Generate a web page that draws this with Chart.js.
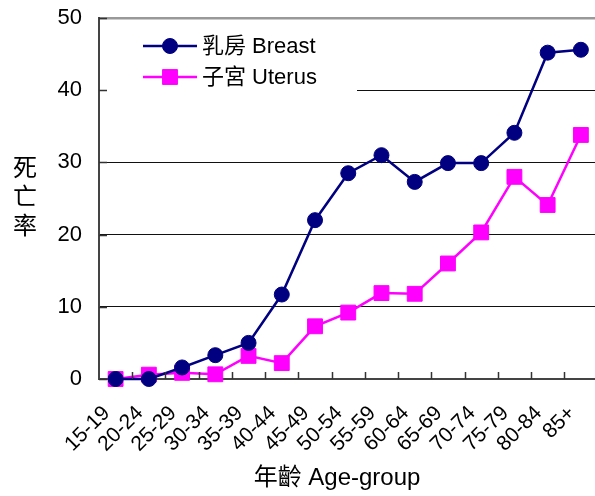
<!DOCTYPE html>
<html>
<head>
<meta charset="utf-8">
<script src="https://cdn.jsdelivr.net/npm/chart.js@4"></script>
<style>
  html, body { margin: 0; padding: 0; background: #fff; overflow: hidden; }
  canvas { display: block; }
</style>
</head>
<body>
<canvas id="chart" width="609" height="496"></canvas>
<script>
// Age groups along the x axis
const ageGroups = ['15-19', '20-24', '25-29', '30-34', '35-39', '40-44', '45-49',
                   '50-54', '55-59', '60-64', '65-69', '70-74', '75-79', '80-84', '85+'];
// Mortality rate by age group
const breastRates = [0.0, 0.0, 1.6, 3.3, 5.0, 11.7, 22.0, 28.5, 31.0, 27.3, 29.9, 29.9, 34.1, 45.2, 45.6];
const uterusRates = [0.0, 0.6, 0.85, 0.65, 3.2, 2.2, 7.3, 9.2, 11.9, 11.8, 16.0, 20.3, 28.0, 24.1, 33.8];
const seriesNames = ['乳房 Breast', '子宮 Uterus'];
const yTicks = [0, 10, 20, 30, 40, 50];
const yTitle = '死亡率';
const xTitle = '年齡 Age-group';

const FONT = "'Liberation Sans', 'Noto Sans CJK TC', Arial, sans-serif";
const NAVY = '#000080';
const MAGENTA = '#FF00FF';

// Inward tick marks on both axes
const innerTicks = {
  id: 'innerTicks',
  afterDraw(chart) {
    const { ctx, chartArea: a, scales: { x, y } } = chart;
    ctx.save();
    ctx.strokeStyle = '#333';
    ctx.lineWidth = 1.5;
    ctx.beginPath();
    for (let i = 0; i < ageGroups.length - 1; i++) {
      const px = Math.round((x.getPixelForValue(i) + x.getPixelForValue(i + 1)) / 2) + 0.5;
      ctx.moveTo(px, a.bottom);
      ctx.lineTo(px, a.bottom - 7);
    }
    yTicks.forEach(v => {
      const py = Math.round(y.getPixelForValue(v)) + 0.5;
      ctx.moveTo(a.left, py);
      ctx.lineTo(a.left + 8, py);
    });
    ctx.stroke();
    ctx.restore();
  }
};

// Legend inside the plot area on a white panel
const innerLegend = {
  id: 'innerLegend',
  afterDatasetsDraw(chart) {
    const { ctx, chartArea: a } = chart;
    ctx.save();
    ctx.fillStyle = '#fff';
    ctx.fillRect(a.left + 2, a.top + 10, 256, 72);
    const rows = [a.top + 28, a.top + 59];
    chart.data.datasets.forEach((ds, i) => {
      const yy = rows[i];
      ctx.strokeStyle = ds.borderColor;
      ctx.lineWidth = ds.borderWidth;
      ctx.beginPath();
      ctx.moveTo(a.left + 44, yy);
      ctx.lineTo(a.left + 98, yy);
      ctx.stroke();
      ctx.fillStyle = ds.pointBackgroundColor;
      ctx.strokeStyle = ds.pointBorderColor;
      ctx.lineWidth = 1;
      Chart.helpers.drawPoint(ctx, {
        pointStyle: ds.pointStyle, radius: ds.pointRadius, rotation: 0, borderWidth: 1
      }, a.left + 71, yy);
      ctx.fillStyle = '#000';
      ctx.font = '22px ' + FONT;
      ctx.textAlign = 'left';
      ctx.textBaseline = 'middle';
      ctx.fillText(ds.label, a.left + 103, yy + 1);
    });
    ctx.restore();
  }
};

// Axis titles: stacked characters on the left, age-group caption below
const axisTitles = {
  id: 'axisTitles',
  afterDraw(chart) {
    const { ctx, chartArea: a } = chart;
    ctx.save();
    ctx.fillStyle = '#000';
    ctx.textAlign = 'center';
    ctx.textBaseline = 'middle';
    ctx.font = '24px ' + FONT;
    const mid = (a.top + a.bottom) / 2;
    [...yTitle].forEach((ch, i) => {
      ctx.fillText(ch, 25, mid - 29 + i * 29);
    });
    ctx.font = '24px ' + FONT;
    ctx.fillText(xTitle, a.left + 238, a.bottom + 99);
    ctx.restore();
  }
};

new Chart(document.getElementById('chart'), {
  type: 'line',
  data: {
    labels: ageGroups,
    datasets: [
      {
        label: seriesNames[0],
        data: breastRates,
        borderColor: NAVY,
        backgroundColor: NAVY,
        pointBackgroundColor: NAVY,
        pointBorderColor: NAVY,
        borderWidth: 2.5,
        pointStyle: 'circle',
        pointRadius: 7.5,
        pointBorderWidth: 1,
        tension: 0
      },
      {
        label: seriesNames[1],
        data: uterusRates,
        borderColor: MAGENTA,
        backgroundColor: MAGENTA,
        pointBackgroundColor: MAGENTA,
        pointBorderColor: MAGENTA,
        borderWidth: 2.5,
        pointStyle: 'rect',
        pointRadius: 10.5,
        pointBorderWidth: 1,
        tension: 0
      }
    ]
  },
  options: {
    responsive: false,
    animation: false,
    clip: false,
    layout: { padding: { top: 18, right: 3, left: 0, bottom: 0 } },
    plugins: {
      legend: { display: false },
      tooltip: { enabled: false }
    },
    scales: {
      x: {
        offset: true,
        grid: { display: false, drawTicks: false },
        border: { display: true, color: '#444', width: 2 },
        ticks: {
          color: '#000',
          font: { family: FONT, size: 21 },
          maxRotation: 45,
          minRotation: 45,
          autoSkip: false,
          padding: 22,
          labelOffset: -9
        },
        title: { display: false },
        afterFit(scale) {
          scale.height = 117;
          scale.paddingLeft = 0;
          scale.paddingRight = 0;
          scale.paddingTop = 0;
          scale.paddingBottom = 0;
        }
      },
      y: {
        min: 0,
        max: 50,
        afterBuildTicks(scale) { scale.ticks = yTicks.map(v => ({ value: v })); },
        grid: {
          drawTicks: false,
          color: ctx => ctx.tick.value === 50 ? '#999' : (ctx.tick.value === 0 ? 'rgba(0,0,0,0)' : '#111'),
          lineWidth: ctx => ctx.tick.value === 50 ? 2.5 : 1
        },
        border: { display: true, color: '#444', width: 2 },
        ticks: {
          color: '#000',
          font: { family: FONT, size: 22 },
          padding: 17
        },
        afterFit(scale) {
          scale.width = 99;
          scale.paddingLeft = 0;
          scale.paddingRight = 0;
          scale.paddingTop = 0;
          scale.paddingBottom = 0;
        }
      }
    }
  },
  plugins: [innerLegend, innerTicks, axisTitles]
});
</script>
</body>
</html>
